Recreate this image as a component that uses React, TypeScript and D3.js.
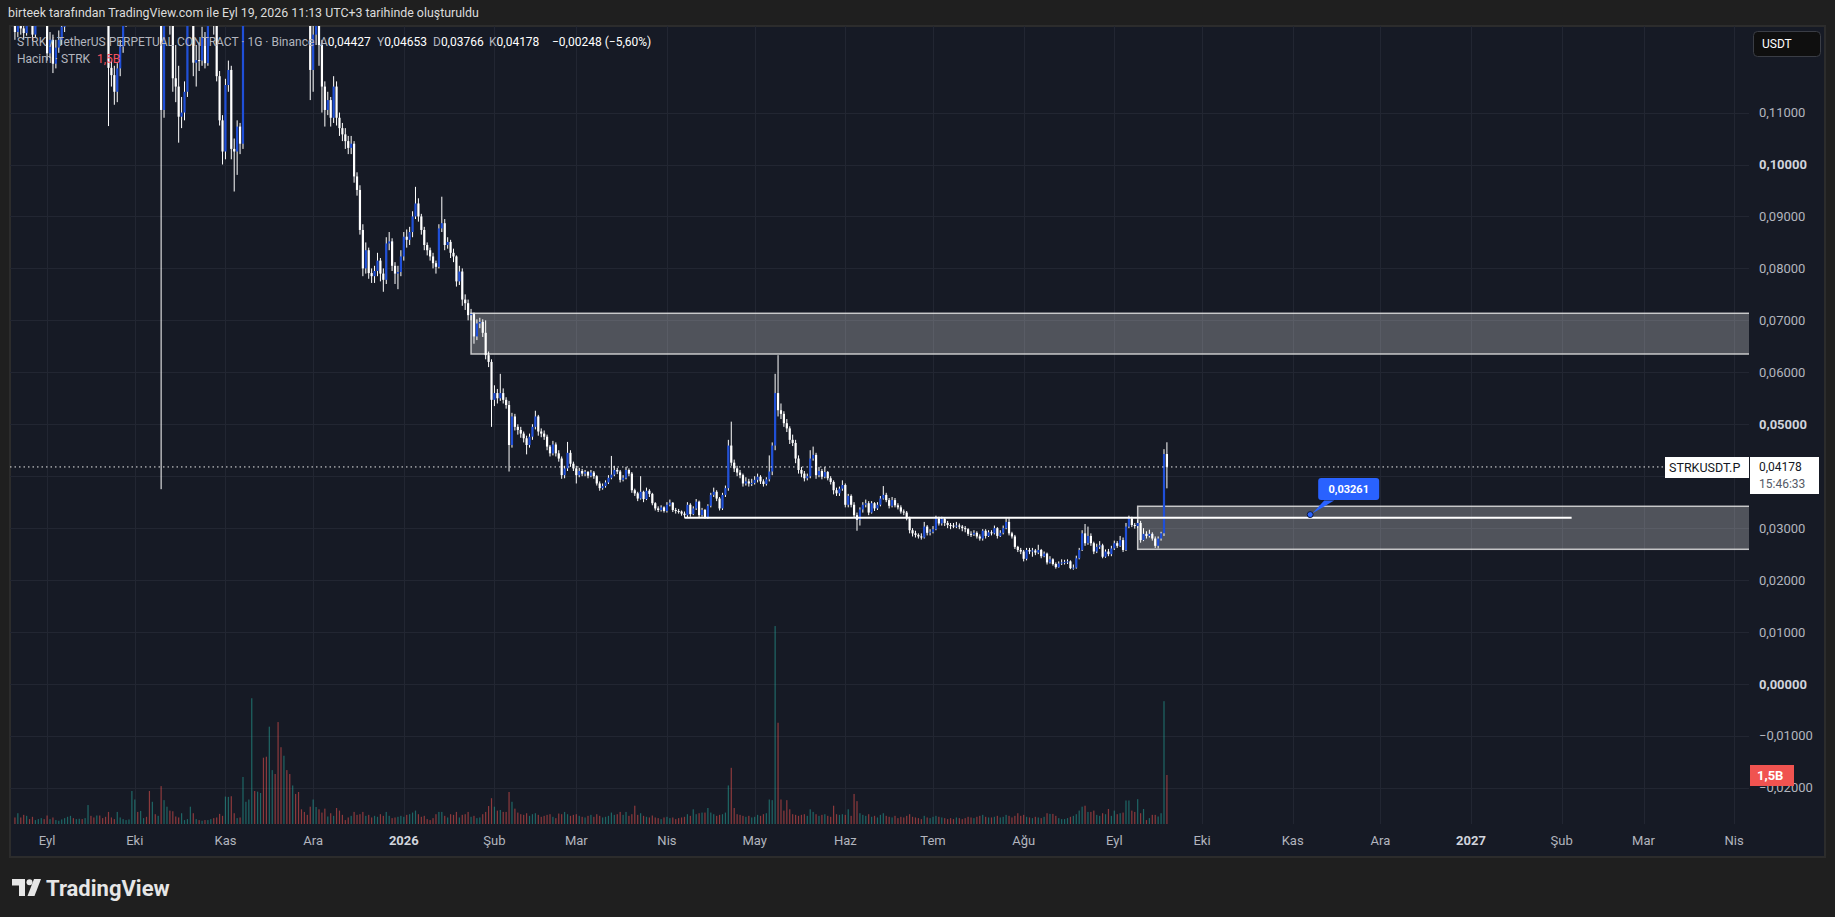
import React from "react";
import * as d3 from "d3";

// ---------- DATA (daily candles, STRK/USDT perp, from 2025-08-21) ----------
const START_DATE = Date.UTC(2025, 7, 21);
const PRICE_UNIT = 1e-4; // prices below are in 0.0001 USDT
const FIRST_OPEN = 1290;

const closes = [
  1255,1280,1262,1253,1300,1295,1250,1280,1310,1330,
  1300,1214,1240,1194,1225,1240,1265,1290,
  1310,1335,1320,1350,1380,1365,1400,1420,1390,1375,1395,1360,1340,1320,
  1186,1172,1140,1185,1227,1275,1300,
  1310,1330,1345,1320,1335,1360,1340,1315,1330,1300,1310,
  1105,1290,1300,1270,1166,1150,1092,1100,1140,1280,
  1300,1196,1201,1200,1245,1195,1280,1300,1270,1170,
  1085,1025,1153,1182,1030,1025,1073,1040,1300,1500,
  1650,1800,1720,1900,2050,1950,1850,1980,2100,2000,1880,1750,1820,1700,1620,1680,1560,1500,1450,1400,1380,
  1182,1250,1290,1230,1150,1105,1124,1090,1150,1090,
  1070,1058,1045,1032,1040,977,951,874,800,835,
  791,785,795,815,790,778,848,852,805,790,
  793,823,
  861,855,870,900,925,900,874,845,835,823,
  810,803,877,887,845,851,830,823,775,794,
  740,733,710,712,669,694,697,676,633,620,
  547,560,550,560,547,537,
  460,515,495,489,482,473,460,476,495,515,
  486,482,476,457,444,461,444,434,402,415,
  445,424,415,402,410,405,408,401,407,400,
  386,377,381,388,397,403,412,409,393,397,
  412,405,373,367,357,370,356,372,366,348,
  338,335,340,333,345,349,335,333,332,328,
  325,345,327,338,351,325,
  335,321,343,364,370,357,338,364,377,459,
  426,415,407,402,386,390,386,387,393,399,
  390,385,394,409,459,
  560,527,520,502,492,470,464,434,412,405,
  396,400,434,441,402,410,399,408,396,389,
  373,367,376,383,345,362,345,325,316,336,
  345,348,330,348,338,345,357,364,354,343,
  354,344,340,332,330,319,296,290,287,284,
  282,303,291,293,298,319,309,318,310,306,
  305,303,305,303,300,298,289,288,291,284,
  280,295,285,292,
  290,300,285,291,300,312,290,284,264,258,
  255,241,258,255,257,253,258,246,251,234,
  240,231,225,232,234,235,236,223,224,242,
  258,290,271,285,271,255,264,267,245,255,
  250,261,271,266,277,258,303,319,306,304,
  310,277,289,285,289,280,266,280,290,442.7,
  417.8,
];

const highs = [
  1300,1300,1295,1285,1320,1325,1305,1295,1330,1355,
  1340,1310,1255,1250,1240,1258,1280,1310,
  1330,1350,1350,1370,1400,1395,1420,1450,1430,1400,1410,1400,1370,1350,
  1330,1200,1190,1195,1240,1290,1320,
  1330,1350,1365,1355,1350,1380,1370,1350,1345,1340,1325,
  1335,1320,1330,1310,1280,1230,1190,1130,1160,1300,
  1320,1310,1230,1235,1265,1255,1300,1330,1310,1280,
  1180,1095,1165,1200,1190,1050,1085,1080,1400,1560,
  1720,1900,1850,1960,2150,2080,1990,2050,2200,2120,2030,1900,1860,1840,1720,1710,1690,1580,1520,1470,1420,
  1390,1280,1320,1300,1240,1160,1140,1130,1170,1160,
  1100,1080,1070,1055,1055,1045,985,960,885,850,
  840,800,805,830,820,800,860,870,858,812,
  805,835,
  870,875,880,910,957,935,905,880,850,840,
  830,815,885,938,895,860,855,838,825,805,
  800,750,740,722,715,702,705,702,700,640,
  625,575,568,597,569,552,
  545,522,520,500,495,486,478,482,500,526,
  518,492,488,480,460,468,465,450,438,420,
  466,450,428,420,416,414,412,410,412,410,
  402,390,386,392,402,439,420,416,412,402,
  418,415,408,376,370,400,372,378,375,368,
  350,342,344,342,350,355,350,339,337,334,
  332,350,348,342,356,353,
  339,337,346,368,378,373,360,368,382,470,
  505,432,420,412,405,398,395,395,400,405,
  402,394,398,440,465,
  597,633,540,525,510,496,480,470,440,418,
  410,405,450,457,445,418,414,418,410,400,
  392,378,380,392,386,366,365,350,330,340,
  350,355,352,352,350,350,362,381,368,358,
  360,358,348,344,336,333,322,300,295,290,
  290,312,306,298,304,324,322,322,320,314,
  310,310,312,309,306,304,300,294,296,294,
  288,298,298,296,
  296,305,302,296,305,319,319,293,287,266,
  262,258,262,262,262,260,268,260,255,253,
  246,242,234,236,240,239,240,238,230,247,
  262,296,308,303,290,274,270,275,270,259,
  260,266,276,275,285,282,310,324,322,310,
  316,314,300,294,297,292,284,284,293,452,
  465.3,
];

const lows = [
  1240,1245,1250,1240,1248,1280,1238,1245,1270,1300,
  1285,1200,1205,1176,1185,1215,1230,1255,
  1275,1300,1300,1310,1335,1340,1355,1385,1370,1355,1360,1340,1320,1290,
  1074,1150,1115,1120,1170,1215,1265,
  1285,1295,1320,1305,1310,1325,1325,1300,1305,1285,1290,
  375,1090,1275,1250,1140,1120,1042,1070,1085,1130,
  1270,1170,1150,1180,1190,1185,1190,1270,1250,1160,
  1075,1000,1010,1140,1010,948,980,1020,1030,1290,
  1470,1600,1650,1700,1880,1900,1800,1830,1950,1960,1850,1700,1720,1660,1580,1600,1520,1460,1420,1370,1330,
  1124,1140,1230,1190,1100,1073,1095,1073,1080,1075,
  1055,1045,1030,1020,1020,965,940,865,785,790,
  780,772,772,785,775,755,770,835,795,770,
  760,785,
  815,840,845,860,895,890,865,835,825,815,
  800,790,800,870,835,838,820,812,765,768,
  728,720,700,700,655,662,685,668,625,610,
  495,535,540,545,540,530,
  409,455,488,480,474,465,442,455,470,490,
  478,475,470,450,438,440,438,428,395,396,
  410,418,410,386,398,400,400,396,398,395,
  382,372,374,378,385,394,400,404,388,390,
  394,400,368,362,352,355,350,354,360,344,
  334,331,332,330,330,342,331,328,328,324,
  320,320,322,325,335,320,
  322,318,318,340,360,352,334,335,360,372,
  420,408,400,396,380,382,380,381,384,388,
  385,380,382,390,402,
  450,515,510,495,485,462,458,425,405,398,
  390,392,396,430,395,398,394,396,392,384,
  365,362,362,372,340,340,340,320,295,305,
  330,340,325,328,333,335,342,355,350,338,
  340,340,336,328,325,315,290,284,282,280,
  278,280,286,286,290,296,305,305,304,300,
  298,300,300,298,294,292,285,283,285,280,
  276,276,280,283,
  286,288,280,283,288,298,286,280,260,254,
  250,236,238,250,245,248,250,242,244,230,
  232,228,222,224,229,230,231,221,220,222,
  240,256,266,268,266,250,252,260,242,243,
  246,246,258,262,264,254,256,300,302,299,
  300,272,275,280,282,276,262,261,276,285,
  376.6,
];

// volume in billions of STRK
const volumes = [
  0.20,0.33,0.20,0.28,0.25,0.15,0.22,0.12,0.15,0.18,
  0.15,0.26,0.15,0.20,0.12,0.10,0.14,0.18,
  0.22,0.25,0.18,0.15,0.16,0.15,0.18,0.58,0.25,0.20,0.26,0.26,0.18,0.22,
  0.37,0.20,0.15,0.37,0.20,0.15,0.12,
  0.14,1.01,0.75,0.37,0.40,0.18,0.22,1.01,0.68,0.30,0.25,
  1.16,0.73,0.53,0.41,0.39,0.23,0.20,0.33,0.12,0.15,
  0.53,0.33,0.15,0.12,0.10,0.12,0.12,0.15,0.18,0.20,
  0.31,0.25,0.84,0.83,0.85,0.33,0.18,0.20,1.44,0.68,
  0.75,3.85,1.01,0.99,0.95,2.03,2.06,2.98,1.65,1.53,3.12,2.35,2.09,1.65,1.53,1.18,0.92,0.98,0.45,0.37,0.28,
  0.53,0.75,0.52,0.45,0.35,0.47,0.23,0.33,0.25,0.49,
  0.41,0.28,0.12,0.20,0.25,0.37,0.28,0.30,0.37,0.25,
  0.28,0.20,0.25,0.22,0.30,0.25,0.37,0.25,0.18,0.20,
  0.22,0.25,
  0.22,0.28,0.30,0.35,0.41,0.30,0.22,0.25,0.15,0.12,
  0.18,0.30,0.37,0.37,0.25,0.20,0.30,0.28,0.37,0.20,
  0.28,0.30,0.37,0.22,0.25,0.18,0.20,0.30,0.37,0.55,
  0.79,0.53,0.41,0.43,0.37,0.37,
  0.98,0.68,0.47,0.35,0.30,0.28,0.33,0.25,0.30,0.33,
  0.28,0.22,0.25,0.28,0.30,0.22,0.18,0.32,0.30,0.37,
  0.30,0.25,0.28,0.30,0.25,0.22,0.20,0.25,0.28,0.22,
  0.30,0.25,0.20,0.22,0.25,0.35,0.28,0.30,0.37,0.28,
  0.37,0.25,0.30,0.56,0.28,0.33,0.25,0.22,0.20,0.26,
  0.20,0.18,0.15,0.20,0.22,0.18,0.20,0.15,0.18,0.20,
  0.22,0.30,0.25,0.45,0.30,0.33,
  0.35,0.35,0.49,0.35,0.30,0.25,0.28,0.30,0.35,1.18,
  1.72,0.49,0.30,0.28,0.25,0.22,0.25,0.20,0.22,0.28,
  0.25,0.30,0.33,0.75,0.73,
  6.06,3.10,0.75,0.41,0.73,0.45,0.30,0.28,0.25,0.28,
  0.30,0.25,0.45,0.37,0.30,0.25,0.28,0.30,0.25,0.22,
  0.56,0.30,0.28,0.30,0.28,0.45,0.25,0.92,0.70,0.33,
  0.28,0.25,0.30,0.22,0.25,0.20,0.28,0.33,0.25,0.22,
  0.20,0.25,0.18,0.22,0.20,0.25,0.30,0.22,0.20,0.18,
  0.15,0.25,0.20,0.18,0.22,0.25,0.22,0.20,0.18,0.15,
  0.18,0.15,0.20,0.18,0.15,0.18,0.22,0.20,0.18,0.22,
  0.25,0.28,0.22,0.20,
  0.20,0.22,0.25,0.20,0.22,0.28,0.25,0.20,0.25,0.33,
  0.25,0.28,0.22,0.20,0.18,0.22,0.20,0.18,0.22,0.33,
  0.31,0.31,0.25,0.18,0.15,0.15,0.18,0.22,0.25,0.30,
  0.41,0.53,0.56,0.37,0.37,0.41,0.28,0.25,0.33,0.30,
  0.46,0.25,0.41,0.30,0.33,0.35,0.72,0.72,0.41,0.37,
  0.76,0.33,0.46,0.12,0.18,0.28,0.28,0.23,0.33,3.76,
  1.50,
];

const priceTicks = [0.11, 0.10, 0.09, 0.08, 0.07, 0.06, 0.05, 0.04, 0.03, 0.02, 0.01, 0, -0.01, -0.02];
const boldPriceTicks = [0.10, 0.05, 0];
const timeTickDates = [
  "2025-09-01","2025-10-01","2025-11-01","2025-12-01","2026-01-01","2026-02-01","2026-03-01",
  "2026-04-01","2026-05-01","2026-06-01","2026-07-01","2026-08-01","2026-09-01","2026-10-01",
  "2026-11-01","2026-12-01","2027-01-01","2027-02-01","2027-03-01","2027-04-01",
];
const timeTickLabels = [
  "Eyl","Eki","Kas","Ara","2026","Şub","Mar","Nis","May","Haz","Tem","Ağu","Eyl","Eki","Kas","Ara","2027","Şub","Mar","Nis",
];
const yearLabels = ["2026", "2027"];

const zoneStarts = ["2026-01-24", "2026-09-09"];
const zoneTops = [0.07136, 0.03421];
const zoneBottoms = [0.06352, 0.02593];
const supportFrom = "2026-04-07";
const supportTo = "2027-02-04T10:00:00Z";
const supportPrice = 0.03201;
const calloutDate = "2026-11-07";
const calloutPrice = 0.03261;
const lastPrice = 0.04178;
const countdown = "15:46:33";
const lastVolumeLabel = "1,5B";
const symbolLabel = "STRKUSDT.P";
const headerText = "birteek tarafından TradingView.com ile Eyl 19, 2026 11:13 UTC+3 tarihinde oluşturuldu";
const legendTitle = "STRK / TetherUS PERPETUAL CONTRACT · 1G · Binance";
const legendKeys = ["A", "Y", "D", "K"];
const legendVals = ["0,04427", "0,04653", "0,03766", "0,04178"];
const legendChange = "−0,00248 (−5,60%)";

// ---------- helpers ----------
const fmtPrice = (v: number) => {
  const s = Math.abs(v).toFixed(5).replace(".", ",");
  return v < -1e-9 ? "−" + s : s;
};
const FONT = "Roboto, 'Liberation Sans', Arial, sans-serif";

export default function App() {
  const W = 1835, H = 917;
  const plotL = 10, plotR = 1749, plotT = 26, plotB = 824;
  const paneR = 1825, paneB = 857;

  const x = d3.scaleUtc()
    .domain([new Date(Date.UTC(2026, 0, 1)), new Date(Date.UTC(2027, 0, 1))])
    .range([403.8, 1471]);
  const y = d3.scaleLinear().domain([0, 0.1]).range([684, 164.5]);
  const yv = d3.scaleLinear().domain([0, 1.5]).range([plotB, 775]);

  const DAY = 86400000;
  const candles = closes.map((c, i) => {
    const o = (i === 0 ? FIRST_OPEN : closes[i - 1]) * PRICE_UNIT;
    const cl = c * PRICE_UNIT;
    const hi = Math.max(highs[i] * PRICE_UNIT, o, cl);
    const lo = Math.min(lows[i] * PRICE_UNIT, o, cl);
    return { date: new Date(START_DATE + i * DAY), o, c: cl, h: hi, l: lo, v: volumes[i], up: cl >= o };
  });

  const BLUE = "#1f4fd8";
  const bw = 2.2;
  const gridColor = "#222632";
  const axisText = "#b2b5be";

  const lastY = y(lastPrice);
  const cx = x(new Date(calloutDate));
  const cy = y(calloutPrice);
  // axis labels hidden behind the last-price / volume badges (as TradingView does)
  const visibleTicks = priceTicks.filter((t) => Math.abs(y(t) - (lastY + 8)) > 22 && Math.abs(y(t) - 775) > 14);

  return (
    <div style={{ position: "absolute", left: 0, top: 0 }}>
      <svg width={W} height={H} style={{ display: "block", fontFamily: FONT }}>
        <defs>
          <clipPath id="plot">
            <rect x={plotL} y={plotT} width={plotR - plotL} height={plotB - plotT} />
          </clipPath>
        </defs>
        <rect x={0} y={0} width={W} height={H} fill="#1f1f1f" />
        <text x={8} y={17} fontSize={12.4} fill="#dcdcdc">{headerText}</text>

        {/* pane */}
        <rect x={plotL} y={plotT} width={paneR - plotL} height={paneB - plotT} fill="#161a25" stroke="#2c2c2c" strokeWidth={2} />

        {/* grid */}
        <g clipPath="url(#plot)">
          {priceTicks.map((t) => (
            <line key={"h" + t} x1={plotL} x2={plotR} y1={Math.round(y(t)) + 0.5} y2={Math.round(y(t)) + 0.5} stroke={gridColor} strokeWidth={1} />
          ))}
          {timeTickDates.map((d) => {
            const xx = Math.round(x(new Date(d))) + 0.5;
            return <line key={"v" + d} x1={xx} x2={xx} y1={plotT} y2={plotB} stroke={gridColor} strokeWidth={1} />;
          })}
        </g>

        {/* volume */}
        <g clipPath="url(#plot)">
          {candles.map((k, i) => {
            const xx = x(k.date);
            return (
              <rect key={"vol" + i} x={xx - 0.6} width={1.2} y={yv(k.v)} height={plotB - yv(k.v)}
                fill={k.up ? "rgba(38,166,154,0.55)" : "rgba(239,83,80,0.55)"} />
            );
          })}
        </g>

        {/* zones */}
        <g clipPath="url(#plot)">
          {zoneStarts.map((d, i) => {
            const x0 = x(new Date(d));
            return (
              <rect key={"z" + i} x={x0} y={y(zoneTops[i])} width={plotR + 20 - x0} height={y(zoneBottoms[i]) - y(zoneTops[i])}
                fill="rgba(255,255,255,0.25)" stroke="rgba(225,225,225,0.85)" strokeWidth={1.5} />
            );
          })}
        </g>

        {/* candles */}
        <g clipPath="url(#plot)">
          {candles.map((k, i) => {
            const xx = x(k.date);
            const top = y(Math.max(k.o, k.c));
            const bot = y(Math.min(k.o, k.c));
            const col = k.up ? BLUE : "#ffffff";
            return (
              <g key={"c" + i}>
                <line x1={xx} x2={xx} y1={y(k.h)} y2={y(k.l)} stroke="#ffffff" strokeWidth={1} />
                <rect x={xx - bw / 2} y={top} width={bw} height={Math.max(1, bot - top)} fill={col} />
              </g>
            );
          })}
        </g>

        {/* support line */}
        <line x1={x(new Date(supportFrom))} x2={x(new Date(supportTo))} y1={y(supportPrice)} y2={y(supportPrice)} stroke="#ffffff" strokeWidth={2} />

        {/* last price dotted line */}
        <line x1={plotL} x2={1665} y1={lastY} y2={lastY} stroke="#e8e8e8" strokeWidth={1} strokeDasharray="1.5 3" />

        {/* callout */}
        <g>
          <path d={`M ${cx + 14} ${cy - 14} L ${cx + 2} ${cy - 1} L ${cx + 24} ${cy - 14} Z`} fill="#2962ff" />
          <rect x={cx + 8} y={cy - 36.5} width={61} height={22} rx={3} fill="#2962ff" />
          <text x={cx + 38.5} y={cy - 21.5} fontSize={11} fontWeight={700} fill="#ffffff" textAnchor="middle">{fmtPrice(calloutPrice)}</text>
          <circle cx={cx} cy={cy} r={3} fill="#2962ff" stroke="#0e1a3a" strokeWidth={1} />
        </g>

        {/* legend */}
        <text x={17} y={46} fontSize={12} fill={axisText}>{legendTitle}</text>
        {legendKeys.map((k, i) => {
          const xs = [320, 377, 433, 489][i];
          return (
            <text key={"lg" + k} x={xs} y={46} fontSize={12}>
              <tspan fill={axisText}>{k}</tspan>
              <tspan fill="#ffffff">{legendVals[i]}</tspan>
            </text>
          );
        })}
        <text x={552} y={46} fontSize={12} fill="#ffffff">{legendChange}</text>
        <text x={17} y={63} fontSize={12} fill={axisText}>Hacim · STRK</text>
        <text x={97} y={63} fontSize={12} fill="#f7525f">{lastVolumeLabel}</text>

        {/* price axis */}
        {visibleTicks.map((t) => {
          const bold = boldPriceTicks.some((b) => Math.abs(b - t) < 1e-9);
          return (
            <text key={"pl" + t} x={1759} y={y(t) + 4.5} fontSize={13} fontWeight={bold ? 700 : 400} fill={bold ? "#d1d4dc" : axisText}>
              {fmtPrice(t)}
            </text>
          );
        })}

        {/* USDT button */}
        <rect x={1753.5} y={31.5} width={67} height={25} rx={4} fill="#0f0f0f" stroke="#3a3d45" strokeWidth={1} />
        <text x={1762} y={48} fontSize={12} fill="#ffffff">USDT</text>

        {/* symbol / last price labels */}
        <rect x={1665} y={457} width={84} height={21} fill="#ffffff" />
        <text x={1669} y={471.5} fontSize={12.5} fill="#131722">{symbolLabel}</text>
        <rect x={1750} y={457} width={69} height={37} fill="#ffffff" />
        <text x={1759} y={471} fontSize={12} fill="#131722">{fmtPrice(lastPrice)}</text>
        <text x={1759} y={488} fontSize={12} fill="#555a66">{countdown}</text>

        {/* volume label (partly covers the -0,02000 tick as in the original) */}
        <text x={1759} y={y(-0.02) + 4.5} fontSize={13} fill={axisText}>{fmtPrice(-0.02)}</text>
        <rect x={1750} y={765} width={44} height={21} fill="#f05350" />
        <text x={1757} y={780} fontSize={13} fontWeight={700} fill="#ffffff">{lastVolumeLabel}</text>

        {/* time axis */}
        {timeTickDates.map((d, i) => {
          const lab = timeTickLabels[i];
          const bold = yearLabels.includes(lab);
          return (
            <text key={"tl" + i} x={x(new Date(d))} y={845} fontSize={13} textAnchor="middle" fontWeight={bold ? 700 : 400} fill={bold ? "#d1d4dc" : axisText}>
              {lab}
            </text>
          );
        })}

        {/* TradingView logo */}
        <g fill="#e6e6e6">
          <path d="M12 879 H25 V896 H19 V885.5 H12 Z" />
          <circle cx={29.5} cy={882.3} r={3} />
          <path d="M34 879 H41 L34.5 896 H27.5 Z" />
        </g>
        <text x={46} y={895.5} fontSize={22} fontWeight={700} fill="#e6e6e6">TradingView</text>
      </svg>
    </div>
  );
}
